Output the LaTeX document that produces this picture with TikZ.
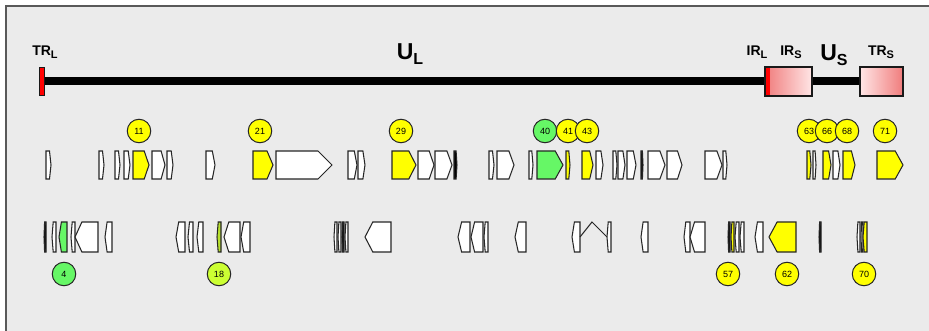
\documentclass[tikz,border=0pt]{standalone}
\usepackage{fontspec}
\setmainfont{Liberation Sans}
\definecolor{bgc}{HTML}{EBEBEB}
\definecolor{ylw}{HTML}{FFFF00}
\definecolor{grn}{HTML}{66F766}
\definecolor{ygr}{HTML}{CCFF33}
\definecolor{ygene}{HTML}{B8E02E}
\definecolor{pinkd}{HTML}{F07C7C}
\definecolor{pinkl}{HTML}{FFE6E6}
\newcommand\fg[3][white]{\pgfmathsetmacro\tl{min(0.3*(#3-#2),14)}%
  \draw[gene,fill=#1] (#2,151) -- ({#3-\tl},151) -- (#3,165) -- ({#3-\tl},179) -- (#2,179) -- cycle;}
\newcommand\rg[3][white]{\pgfmathsetmacro\tl{min(0.3*(#3-#2),14)}%
  \draw[gene,fill=#1] (#3,222) -- ({#2+\tl},222) -- (#2,237) -- ({#2+\tl},252) -- (#3,252) -- cycle;}
\newcommand\sublab[2]{#1\raisebox{-0.4ex}{\fontsize{11}{11}\selectfont #2}}
\begin{document}
\begin{tikzpicture}[x=1pt,y=-1pt,
  gene/.style={draw=black!85, line width=1.05pt, line join=miter},
  num/.style={circle, draw=black!85, line width=1pt, minimum size=23.5pt, inner sep=0pt, font=\fontsize{9}{9}\selectfont},
  lab/.style={inner sep=0pt, font=\bfseries\fontsize{14}{14}\selectfont},
  biglab/.style={inner sep=0pt, font=\bfseries\fontsize{23}{23}\selectfont}]
\useasboundingbox (0,0) rectangle (929,331);
\draw[fill=bgc, draw=black!65, line width=1.2pt] (6,6) rectangle (945,345);
% genome bar
\fill[black] (45,77) rectangle (766,85);
\fill[black] (812,77) rectangle (860,85);
\draw[fill=red, draw=black!90, line width=1.6pt] (39.5,67.5) rectangle (44.5,95.5);
\shade[left color=pinkd, right color=pinkl] (765,67) rectangle (812,96);
\fill[red] (766,67) rectangle (770,96);
\draw[draw=black!90, line width=1.5pt] (765,67) rectangle (812,96);
\shade[left color=pinkl, right color=pinkd] (860,67) rectangle (903,96);
\draw[draw=black!90, line width=1.5pt] (860,67) rectangle (903,96);
\node[lab] (trl) at (45,52) {\sublab{TR}{L}};
\node[biglab] (ul) at (410,54) {U\raisebox{-0.4ex}{\fontsize{16}{16}\selectfont L}};
\node[lab] (irl) at (757,52) {\sublab{IR}{L}};
\node[lab] (irs) at (791,52) {\sublab{IR}{S}};
\node[biglab] (us) at (834,55) {U\raisebox{-0.4ex}{\fontsize{16}{16}\selectfont S}};
\node[lab] (trs) at (881,52) {\sublab{TR}{S}};
% top row genes
\fg{46}{51}
\fg{99}{104}
\fg{115}{120}
\fg{124}{130}
\fg[ylw]{133}{149}
\fg{152}{165}
\fg{167}{173}
\fg{206}{215}
\fg[ylw]{253}{273}
\fg{276}{332}
\fg{348}{357}
\fg{358}{365}
\fg[ylw]{392}{416}
\fg{418}{434}
\fg{435}{452}
\fg[black]{454}{457}
\fg{489}{494}
\fg{497}{514}
\fg{529}{533}
\fg[grn]{537}{563}
\fg[ylw]{566}{570}
\fg[ylw]{582}{593}
\fg{596}{603}
\fg{613}{617}
\fg{618}{625}
\fg{627}{636}
\fg[black]{641}{643}
\fg{648}{665}
\fg{667}{682}
\fg{705}{722}
\fg{723}{727}
\fg[ylw]{807}{811}
\fg{813}{816}
\fg[ylw]{823}{831}
\fg{833}{840}
\fg[ylw]{843}{855}
\fg[ylw]{877}{903}
% top row labels
\node[num,fill=ylw] (g11) at (139,131) {11};
\node[num,fill=ylw] (g21) at (260,131) {21};
\node[num,fill=ylw] (g29) at (401,131) {29};
\node[num,fill=grn] (g40) at (545,131) {40};
\node[num,fill=ylw] (g41) at (568,131) {41};
\node[num,fill=ylw] (g43) at (587,131) {43};
\node[num,fill=ylw] (g63) at (809,131) {63};
\node[num,fill=ylw] (g66) at (827,131) {66};
\node[num,fill=ylw] (g68) at (847,131) {68};
\node[num,fill=ylw] (g71) at (885,131) {71};
% bottom row genes
\rg[black]{44}{46}
\rg{52}{56}
\rg[grn]{59}{67}
\rg{71}{75}
\rg{75}{98}
\rg{105}{112}
\rg{176}{185}
\rg{188}{193}
\rg{197}{203}
\rg[ygene]{217}{221}
\rg{224}{240}
\rg{241}{250}
\rg{334}{337}
\rg{338}{341}
\rg[black]{342}{344}
\rg{345}{348}
\rg{365}{391}
\rg{458}{470}
\rg{471}{483}
\rg{484}{488}
\rg{515}{526}
\rg{572}{580}
\draw[gene] (580,237) -- (592,222) -- (607,237);
\rg{607}{611}
\rg{641}{648}
\rg{684}{690}
\rg{690}{705}
\rg[black]{728}{730}
\rg[ylw]{731}{734}
\rg{735}{739}
\rg{740}{744}
\rg{755}{763}
\rg[ylw]{769}{796}
\rg[black]{819}{821}
\rg{857}{860}
\rg{861}{863}
\rg[ylw]{863}{867}
% bottom row labels
\node[num,fill=grn] (g4) at (64,274) {4};
\node[num,fill=ygr] (g18) at (219,274) {18};
\node[num,fill=ylw] (g57) at (728,274) {57};
\node[num,fill=ylw] (g62) at (787,274) {62};
\node[num,fill=ylw] (g70) at (864,274) {70};
\end{tikzpicture}
\end{document}
